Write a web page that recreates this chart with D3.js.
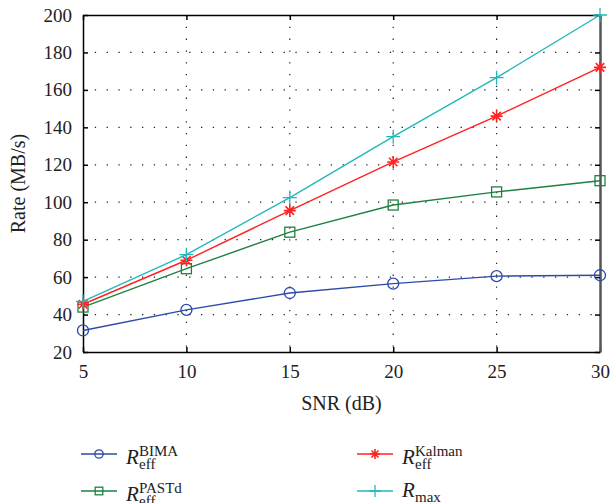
<!DOCTYPE html>
<html>
<head>
<meta charset="utf-8">
<script src="https://cdn.jsdelivr.net/npm/d3@7"></script>
<style>
  body { margin: 0; background: #fff; }
  svg { display: block; }
  text { font-family: "Liberation Serif", "DejaVu Serif", serif; }
</style>
</head>
<body>
<svg id="chart" width="611" height="503"></svg>
<script>
// data
const snr = [5, 10, 15, 20, 25, 30];
const bima = [31.5, 42.5, 51.5, 56.5, 60.5, 61];
const pastd = [44, 64.5, 84, 98.5, 105.5, 111.5];
const kalman = [45.5, 69, 95.5, 121.5, 146, 172];
const rmax = [47, 72, 102.5, 135, 166.5, 200];
const xTicks = [5, 10, 15, 20, 25, 30];
const yTicks = [20, 40, 60, 80, 100, 120, 140, 160, 180, 200];

const series = [
  { key: "BIMA", values: bima, color: "#2c4aa8", marker: "circle", sup: "BIMA", sub: "eff" },
  { key: "PASTd", values: pastd, color: "#1e8040", marker: "square", sup: "PASTd", sub: "eff" },
  { key: "Kalman", values: kalman, color: "#ff2222", marker: "star", sup: "Kalman", sub: "eff" },
  { key: "max", values: rmax, color: "#22b8bb", marker: "plus", sup: null, sub: "max" },
];

const FONT = "Liberation Serif, DejaVu Serif, serif";
const svg = d3.select("#chart");
const margin = { top: 15, right: 11, bottom: 151, left: 83 };
const width = 611 - margin.left - margin.right;
const height = 503 - margin.top - margin.bottom;

const x = d3.scaleLinear().domain([5, 30]).range([0, width]);
const y = d3.scaleLinear().domain([20, 200]).range([height, 0]);

const g = svg.append("g").attr("transform", `translate(${margin.left},${margin.top})`);

/* grid */
g.append("g")
  .selectAll("line")
  .data(yTicks.slice(1, -1))
  .join("line")
  .attr("x1", 0).attr("x2", width)
  .attr("y1", d => y(d)).attr("y2", d => y(d))
  .attr("stroke", "#222").attr("stroke-width", 1.2)
  .attr("stroke-dasharray", "1.3,10.5");

g.append("g")
  .selectAll("line")
  .data(xTicks.slice(1, -1))
  .join("line")
  .attr("y1", 0).attr("y2", height)
  .attr("x1", d => x(d)).attr("x2", d => x(d))
  .attr("stroke", "#222").attr("stroke-width", 1.2)
  .attr("stroke-dasharray", "1.3,10.5");

/* axes, ticks inside */
const axisStyle = sel => {
  sel.attr("font-family", FONT);
  sel.select(".domain").attr("stroke", "#000").attr("stroke-width", 1.5);
  sel.selectAll(".tick line").attr("stroke", "#000").attr("stroke-width", 1.5);
  sel.selectAll(".tick text").attr("font-size", 19).attr("fill", "#222");
};

g.append("g").attr("transform", `translate(0,${height})`)
  .call(d3.axisBottom(x).tickValues(xTicks).tickSizeInner(-5).tickSizeOuter(0).tickPadding(13))
  .call(axisStyle);
g.append("g")
  .call(d3.axisLeft(y).tickValues(yTicks).tickSizeInner(-5).tickSizeOuter(0).tickPadding(11))
  .call(axisStyle);
g.append("g")
  .call(d3.axisTop(x).tickValues(xTicks).tickSizeInner(-5).tickSizeOuter(0).tickFormat(""))
  .call(axisStyle);
g.append("g").attr("transform", `translate(${width},0)`)
  .call(d3.axisRight(y).tickValues(yTicks).tickSizeInner(-5).tickSizeOuter(0).tickFormat(""))
  .call(axisStyle)
  .call(s => s.select(".domain").attr("stroke", "#555").attr("stroke-width", 2.5));

/* axis labels */
svg.append("text")
  .attr("x", margin.left + width / 2).attr("y", 410)
  .attr("text-anchor", "middle").attr("font-size", 20).attr("fill", "#222")
  .text("SNR (dB)");
svg.append("text")
  .attr("transform", `translate(25,${margin.top + height / 2}) rotate(-90)`)
  .attr("text-anchor", "middle").attr("font-size", 20).attr("fill", "#222")
  .text("Rate (MB/s)");

/* markers */
const drawMarker = (sel, type, color, s) => {
  if (type === "circle") {
    sel.append("circle").attr("r", s).attr("fill", "none")
      .attr("stroke", color).attr("stroke-width", 1.3);
  } else if (type === "square") {
    sel.append("rect").attr("x", -s).attr("y", -s).attr("width", 2 * s).attr("height", 2 * s)
      .attr("fill", "none").attr("stroke", color).attr("stroke-width", 1.3);
  } else if (type === "star") {
    const p = d3.path();
    for (let k = 0; k < 4; k++) {
      const a = (k * Math.PI) / 4;
      p.moveTo(-s * Math.cos(a), -s * Math.sin(a));
      p.lineTo(s * Math.cos(a), s * Math.sin(a));
    }
    sel.append("path").attr("d", p.toString()).attr("stroke", color).attr("stroke-width", 1.6);
  } else {
    const p = d3.path();
    p.moveTo(-s, 0); p.lineTo(s, 0);
    p.moveTo(0, -s); p.lineTo(0, s);
    sel.append("path").attr("d", p.toString()).attr("stroke", color).attr("stroke-width", 1.3);
  }
};

const line = d3.line().x((d, i) => x(snr[i])).y(d => y(d));
const markerSize = { circle: 5.5, square: 5, star: 6, plus: 7 };

series.forEach(s => {
  g.append("path").datum(s.values)
    .attr("d", line).attr("fill", "none")
    .attr("stroke", s.color).attr("stroke-width", 1.4);
  g.append("g").selectAll("g")
    .data(s.values)
    .join("g")
    .attr("transform", (d, i) => `translate(${x(snr[i])},${y(d)})`)
    .each(function () { drawMarker(d3.select(this), s.marker, s.color, markerSize[s.marker]); });
});

/* legend */
const legendPos = [
  { x: 81, y: 454 }, { x: 81, y: 491 },
  { x: 357, y: 454 }, { x: 357, y: 491 },
];
const legendSize = { circle: 4.2, square: 3.8, star: 5, plus: 6 };
series.forEach((s, i) => {
  const lg = svg.append("g").attr("transform", `translate(${legendPos[i].x},${legendPos[i].y})`)
    .attr("font-family", FONT);
  lg.append("line").attr("x1", 0).attr("x2", 36).attr("stroke", s.color).attr("stroke-width", 1.4);
  const m = lg.append("g").attr("transform", "translate(18,0)");
  drawMarker(m, s.marker, s.color, legendSize[s.marker]);
  lg.append("text").attr("x", 45).attr("y", s.sup ? 10 : 6)
    .attr("font-size", 21).attr("fill", "#222")
    .append("tspan").attr("font-style", "italic").text("R");
  const rx = 45 + 13;
  if (s.sup) {
    lg.append("text").attr("x", rx).attr("y", 2).attr("font-size", 15).attr("fill", "#222").text(s.sup);
    lg.append("text").attr("x", rx).attr("y", 15).attr("font-size", 15).attr("fill", "#222").text(s.sub);
  } else {
    lg.append("text").attr("x", rx).attr("y", 11).attr("font-size", 15).attr("fill", "#222").text(s.sub);
  }
});
</script>
</body>
</html>
